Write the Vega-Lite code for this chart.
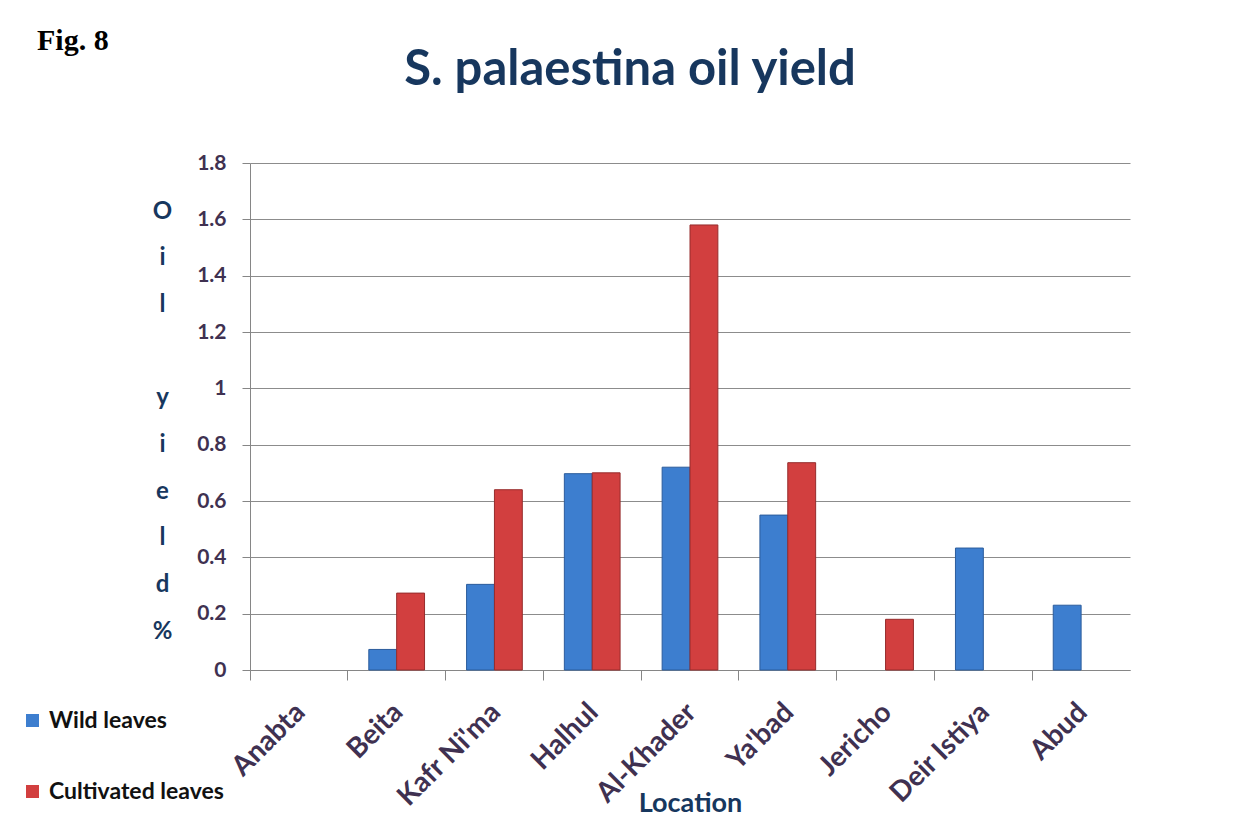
{
  "$schema": "https://vega.github.io/schema/vega-lite/v6.json",
  "background": "white",
  "padding": {"left": 21, "top": 26, "right": 5, "bottom": 2},
  "title": {"text": "Fig. 8", "anchor": "start", "frame": "bounds", "font": "Liberation Serif", "fontSize": 30, "fontWeight": "bold", "color": "black", "offset": -10, "dx": 16},
  "vconcat": [
    {
      "width": 880,
      "height": 507,
      "title": {"text": "S. palaestina oil yield", "font": "Lato", "fontSize": 49, "fontWeight": "bold", "color": "#17375E", "anchor": "middle", "offset": 57, "dx": -60},
      "data": {
        "values": [
          {"location": "Anabta", "leaf": "Wild leaves", "yield": 0},
          {"location": "Anabta", "leaf": "Cultivated leaves", "yield": 0},
          {"location": "Beita", "leaf": "Wild leaves", "yield": 0.073},
          {"location": "Beita", "leaf": "Cultivated leaves", "yield": 0.273},
          {"location": "Kafr Ni'ma", "leaf": "Wild leaves", "yield": 0.304},
          {"location": "Kafr Ni'ma", "leaf": "Cultivated leaves", "yield": 0.64},
          {"location": "Halhul", "leaf": "Wild leaves", "yield": 0.697},
          {"location": "Halhul", "leaf": "Cultivated leaves", "yield": 0.70},
          {"location": "Al-Khader", "leaf": "Wild leaves", "yield": 0.72},
          {"location": "Al-Khader", "leaf": "Cultivated leaves", "yield": 1.58},
          {"location": "Ya'bad", "leaf": "Wild leaves", "yield": 0.55},
          {"location": "Ya'bad", "leaf": "Cultivated leaves", "yield": 0.736},
          {"location": "Jericho", "leaf": "Wild leaves", "yield": 0},
          {"location": "Jericho", "leaf": "Cultivated leaves", "yield": 0.18},
          {"location": "Deir Istiya", "leaf": "Wild leaves", "yield": 0.433},
          {"location": "Deir Istiya", "leaf": "Cultivated leaves", "yield": 0},
          {"location": "Abud", "leaf": "Wild leaves", "yield": 0.23},
          {"location": "Abud", "leaf": "Cultivated leaves", "yield": 0}
        ]
      },
      "transform": [{"filter": "datum.yield > 0"}],
      "mark": {"type": "bar", "stroke": {"expr": "datum.leaf === 'Wild leaves' ? '#2B5C9C' : '#962C2C'"}, "strokeWidth": 1},
      "encoding": {
        "x": {
          "field": "location",
          "type": "nominal",
          "sort": null,
          "scale": {"domain": ["Anabta", "Beita", "Kafr Ni'ma", "Halhul", "Al-Khader", "Ya'bad", "Jericho", "Deir Istiya", "Abud"], "paddingInner": 0.43, "paddingOuter": 0.215},
          "axis": {
            "title": "Location",
            "titleFont": "Lato",
            "titleFontSize": 27,
            "titleFontWeight": "bold",
            "titleColor": "#17375E",
            "titlePadding": -21,
            "labelAngle": -45,
            "labelFont": "Lato",
            "labelFontSize": 28,
            "labelFontWeight": "bold",
            "labelColor": "#3F3151",
            "labelPadding": 18,
            "labelOffset": -8,
            "bandPosition": -0.377,
            "ticks": true,
            "tickSize": 10,
            "tickColor": "#868686",
            "domainColor": "#868686",
            "grid": false
          }
        },
        "xOffset": {"field": "leaf", "type": "nominal", "sort": ["Wild leaves", "Cultivated leaves"], "scale": {"paddingInner": 0, "paddingOuter": 0}},
        "y": {
          "field": "yield",
          "type": "quantitative",
          "scale": {"domain": [0, 1.8], "nice": false},
          "axis": {
            "values": [0, 0.2, 0.4, 0.6, 0.8, 1, 1.2, 1.4, 1.6, 1.8],
            "format": "~g",
            "title": ["O", "i", "l", "\u200b", "y", "i", "e", "l", "d", "%"],
            "titleAngle": 0,
            "titleAlign": "center",
            "titleBaseline": "middle",
            "titleX": -88,
            "titleY": 48,
            "titleLineHeight": 46.7,
            "titleFont": "Lato",
            "titleFontSize": 24,
            "titleFontWeight": "bold",
            "titleColor": "#17375E",
            "labelFont": "Lato",
            "labelFontSize": 21,
            "labelFontWeight": "bold",
            "labelColor": "#3F3151",
            "labelPadding": 16,
            "tickSize": 8,
            "tickColor": "#868686",
            "domainColor": "#868686",
            "grid": true,
            "gridColor": "#8C8C8C",
            "gridWidth": 1
          }
        },
        "color": {
          "field": "leaf",
          "type": "nominal",
          "sort": ["Wild leaves", "Cultivated leaves"],
          "scale": {"domain": ["Wild leaves", "Cultivated leaves"], "range": ["#3D7ECF", "#D23F3F"]},
          "legend": {
            "title": null,
            "orient": "none",
            "legendX": -229,
            "legendY": 546,
            "symbolType": "square",
            "symbolSize": 170,
            "symbolStrokeWidth": 0,
            "labelFont": "Lato",
            "labelFontSize": 23,
            "labelFontWeight": "bold",
            "labelColor": "#111111",
            "labelLimit": 400,
            "rowPadding": 47,
            "labelOffset": 5
          }
        }
      }
    }
  ],
  "config": {
    "view": {"stroke": null}
  }
}
